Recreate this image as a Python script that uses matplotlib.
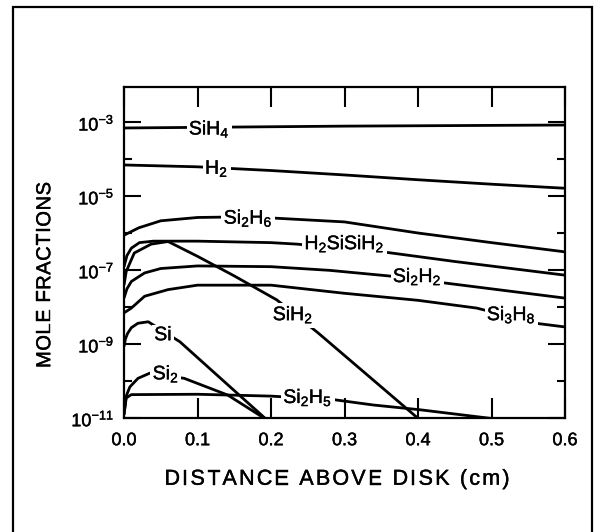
import numpy as np
import matplotlib
matplotlib.use("Agg")
import matplotlib.pyplot as plt
import matplotlib.patheffects as pe
from matplotlib.patches import Rectangle
from matplotlib.font_manager import FontProperties
from matplotlib.ticker import FixedLocator, FixedFormatter, NullLocator

plt.rcParams['font.family'] = ['Liberation Sans', 'DejaVu Sans']
plt.rcParams['mathtext.default'] = 'regular'

W, H = 598, 532

# distance above disk (cm) and log10 of mole fraction
sih4_x = [0.0, 0.3, 0.6]
sih4_log = [-3.15, -3.10, -3.07]

h2_x = [0.0, 0.1, 0.2, 0.3, 0.4, 0.5, 0.6]
h2_log = [-4.15, -4.20, -4.30, -4.42, -4.55, -4.67, -4.78]

si2h6_x = [0.0, 0.01, 0.02, 0.05, 0.1, 0.17, 0.3, 0.4, 0.5, 0.6]
si2h6_log = [-6.05, -5.95, -5.85, -5.66, -5.57, -5.55, -5.69, -5.99, -6.25, -6.5]

h2sisih2_x = [0.0, 0.004, 0.01, 0.021, 0.04, 0.1, 0.2, 0.235, 0.36, 0.45, 0.6]
h2sisih2_log = [-6.9, -6.6, -6.4, -6.25, -6.21, -6.21, -6.25, -6.29, -6.52, -6.76, -7.13]

sih2_x = [0.0, 0.003, 0.014, 0.037, 0.06, 0.1, 0.15, 0.208, 0.264, 0.4]
sih2_log = [-7.4, -7.03, -6.53, -6.29, -6.22, -6.62, -7.15, -7.8, -8.69, -11.0]

si2h2_x = [0.0, 0.004, 0.01, 0.028, 0.05, 0.1, 0.2, 0.28, 0.36, 0.44, 0.6]
si2h2_log = [-7.75, -7.5, -7.3, -7.07, -6.95, -6.88, -6.9, -7.0, -7.15, -7.35, -7.75]

si3h8_x = [0.0, 0.01, 0.028, 0.06, 0.1, 0.2, 0.3, 0.4, 0.48, 0.56, 0.6]
si3h8_log = [-8.15, -8.02, -7.7, -7.52, -7.4, -7.4, -7.62, -7.81, -8.02, -8.43, -8.53]

si_x = [0.0, 0.002, 0.005, 0.01, 0.019, 0.033, 0.076, 0.192]
si_log = [-9.06, -8.85, -8.7, -8.55, -8.43, -8.39, -8.93, -11.0]

si2_x = [0.0, 0.003, 0.008, 0.019, 0.035, 0.082, 0.141, 0.191]
si2_log = [-10.9, -10.4, -10.15, -9.92, -9.78, -9.92, -10.37, -11.0]

si2h5_x = [0.0, 0.003, 0.01, 0.1, 0.2, 0.287, 0.339, 0.403, 0.498, 0.55]
si2h5_log = [-10.9, -10.45, -10.36, -10.35, -10.4, -10.5, -10.64, -10.77, -11.0, -11.08]

series_x = [sih4_x, h2_x, si2h6_x, h2sisih2_x, sih2_x, si2h2_x, si3h8_x, si_x, si2_x, si2h5_x]
series_log = [sih4_log, h2_log, si2h6_log, h2sisih2_log, sih2_log, si2h2_log, si3h8_log, si_log, si2_log, si2h5_log]

# curve labels and where they sit
labels = ['SiH$_4$', 'H$_2$', 'Si$_2$H$_6$', 'H$_2$SiSiH$_2$', 'SiH$_2$',
          'Si$_2$H$_2$', 'Si$_3$H$_8$', 'Si', 'Si$_2$', 'Si$_2$H$_5$']
label_x = [0.116, 0.126, 0.169, 0.30, 0.23, 0.399, 0.527, 0.053, 0.057, 0.25]
label_log = [-3.14, -4.2, -5.55, -6.24, -8.16, -7.13, -8.16, -8.7, -9.76, -10.4]

ytick_vals = [1e-3, 1e-5, 1e-7, 1e-9, 1e-11]
ytick_labels = ['10$^{-3}$', '10$^{-5}$', '10$^{-7}$', '10$^{-9}$', '10$^{-11}$']
yminor_vals = [1e-4, 1e-6, 1e-8, 1e-10]
xtick_vals = [0.0, 0.1, 0.2, 0.3, 0.4, 0.5, 0.6]
xtick_labels = ['0.0', '0.1', '0.2', '0.3', '0.4', '0.5', '0.6']

heavy = [pe.withStroke(linewidth=0.3, foreground='black')]


def tracked_text(fig, s, cx, cy, size, total, vertical=False):
    # lay out characters one by one so the label gets the wide letter spacing
    renderer = fig.canvas.get_renderer()
    prop = FontProperties(family='Liberation Sans', size=size)
    widths = [renderer.get_text_width_height_descent(c, prop, ismath=False)[0] for c in s]
    gap = (total - sum(widths)) / (len(s) - 1)
    cap = 0.716 * size * fig.dpi / 72
    pos = -total / 2
    for c, w in zip(s, widths):
        if vertical:
            x, y = cx + cap / 2, H - cy + pos
            fig.text(x, y, c, transform=None, fontproperties=prop, rotation=90,
                     rotation_mode='anchor', ha='left', va='baseline', path_effects=heavy)
        else:
            x, y = cx + pos, H - cy - cap / 2
            fig.text(x, y, c, transform=None, fontproperties=prop,
                     ha='left', va='baseline', path_effects=heavy)
        pos += w + gap


fig = plt.figure(figsize=(W / 100, H / 100), dpi=100)
ax = fig.add_axes([124 / W, 1 - 418.3 / H, 441 / W, 331 / H])

for xs, ls in zip(series_x, series_log):
    ax.plot(xs, 10.0 ** np.array(ls), color='black', lw=2.0, solid_capstyle='butt', zorder=2)

for lab, lx, ly in zip(labels, label_x, label_log):
    ax.annotate(lab, (lx, 10.0 ** ly), xytext=(0, -5.0), textcoords='offset points',
                ha='center', va='baseline', fontsize=14, zorder=5, path_effects=heavy,
                bbox=dict(boxstyle='square,pad=0.12', fc='white', ec='none'))

ax.set_yscale('log')
ax.set_xlim(0.0, 0.6)
ax.set_ylim(1e-11, 10 ** -2.05)

ax.yaxis.set_major_locator(FixedLocator(ytick_vals))
ax.yaxis.set_major_formatter(FixedFormatter(ytick_labels))
ax.yaxis.set_minor_locator(FixedLocator(yminor_vals))
ax.yaxis.set_minor_formatter(FixedFormatter([''] * len(yminor_vals)))
ax.xaxis.set_major_locator(FixedLocator(xtick_vals))
ax.xaxis.set_major_formatter(FixedFormatter(xtick_labels))
ax.xaxis.set_minor_locator(NullLocator())

ax.tick_params(axis='both', which='major', direction='in', top=True, right=True,
               labelsize=13, width=1.5, color='black')
ax.tick_params(axis='y', which='major', length=12.5, pad=7)
ax.tick_params(axis='x', which='major', length=14.5, pad=10)
ax.tick_params(axis='y', which='minor', direction='in', right=True, length=5.5, width=1.5)
for t in ax.get_xticklabels() + ax.get_yticklabels():
    t.set_path_effects(heavy)

for sp in ax.spines.values():
    sp.set_linewidth(1.6)

tracked_text(fig, 'DISTANCE ABOVE DISK (cm)', 337, 477, 15.5, 345)
tracked_text(fig, 'MOLE FRACTIONS', 43, 275, 14.5, 186, vertical=True)

# outer frame around the panel
frame = Rectangle((13 / W, -0.05), (592 - 13) / W, 1.05 - 7 / H,
                  transform=fig.transFigure, fill=False, lw=1.6, ec='black', clip_on=False)
fig.patches.append(frame)

fig.savefig('out.png', dpi=100)
